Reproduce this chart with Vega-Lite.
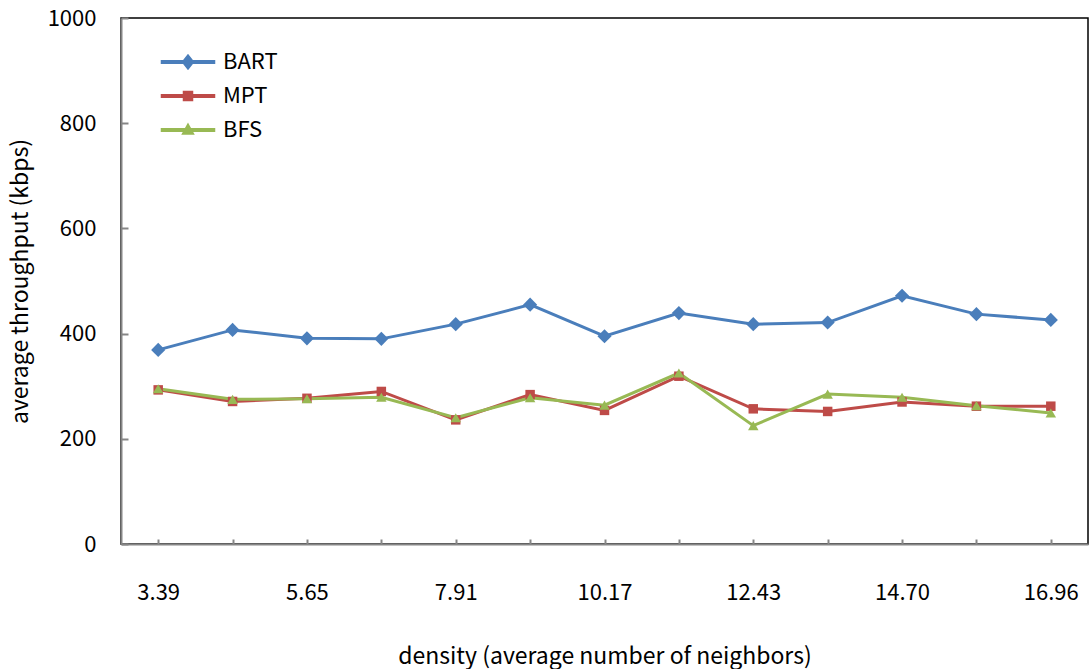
{
  "$schema": "https://vega.github.io/schema/vega-lite/v6.json",
  "autosize": {"type": "none"},
  "padding": {"left": 121, "top": 18, "right": 2, "bottom": 125},
  "width": 967,
  "height": 526,
  "background": "white",
  "config": {
    "font": "Noto Sans CJK KR",
    "view": {"stroke": "#000000", "strokeWidth": 1.5},
    "axis": {"grid": false, "domainColor": "#868686", "domainWidth": 2, "tickColor": "#868686", "tickWidth": 2, "labelColor": "#000000", "titleColor": "#000000", "labelFontSize": 22, "titleFontSize": 23, "titleFontWeight": "normal", "labelFont": "Noto Sans CJK KR", "titleFont": "Noto Sans CJK KR"}
  },
  "data": {
    "values": [
      {"density": "3.39", "series": "BART", "throughput": 369},
      {"density": "4.52", "series": "BART", "throughput": 407},
      {"density": "5.65", "series": "BART", "throughput": 391},
      {"density": "6.78", "series": "BART", "throughput": 390},
      {"density": "7.91", "series": "BART", "throughput": 418},
      {"density": "9.04", "series": "BART", "throughput": 455},
      {"density": "10.17", "series": "BART", "throughput": 395},
      {"density": "11.30", "series": "BART", "throughput": 439},
      {"density": "12.43", "series": "BART", "throughput": 418},
      {"density": "13.56", "series": "BART", "throughput": 421},
      {"density": "14.70", "series": "BART", "throughput": 472},
      {"density": "15.83", "series": "BART", "throughput": 437},
      {"density": "16.96", "series": "BART", "throughput": 426},
      {"density": "3.39", "series": "MPT", "throughput": 293},
      {"density": "4.52", "series": "MPT", "throughput": 271},
      {"density": "5.65", "series": "MPT", "throughput": 277},
      {"density": "6.78", "series": "MPT", "throughput": 290},
      {"density": "7.91", "series": "MPT", "throughput": 236},
      {"density": "9.04", "series": "MPT", "throughput": 284},
      {"density": "10.17", "series": "MPT", "throughput": 254},
      {"density": "11.30", "series": "MPT", "throughput": 319},
      {"density": "12.43", "series": "MPT", "throughput": 257},
      {"density": "13.56", "series": "MPT", "throughput": 252},
      {"density": "14.70", "series": "MPT", "throughput": 270},
      {"density": "15.83", "series": "MPT", "throughput": 262},
      {"density": "16.96", "series": "MPT", "throughput": 262},
      {"density": "3.39", "series": "BFS", "throughput": 295},
      {"density": "4.52", "series": "BFS", "throughput": 275},
      {"density": "5.65", "series": "BFS", "throughput": 276},
      {"density": "6.78", "series": "BFS", "throughput": 279},
      {"density": "7.91", "series": "BFS", "throughput": 240},
      {"density": "9.04", "series": "BFS", "throughput": 278},
      {"density": "10.17", "series": "BFS", "throughput": 264},
      {"density": "11.30", "series": "BFS", "throughput": 325},
      {"density": "12.43", "series": "BFS", "throughput": 225},
      {"density": "13.56", "series": "BFS", "throughput": 285},
      {"density": "14.70", "series": "BFS", "throughput": 279},
      {"density": "15.83", "series": "BFS", "throughput": 263},
      {"density": "16.96", "series": "BFS", "throughput": 249}
    ]
  },
  "encoding": {
    "x": {
      "field": "density", "type": "ordinal", "sort": null,
      "scale": {"type": "point", "padding": 0.5},
      "axis": {
        "title": "density (average number of neighbors)",
        "labelAngle": 0,
        "tickSize": -5,
        "labelPadding": 43,
        "titlePadding": 42,
        "labelExpr": "indexof(['3.39','5.65','7.91','10.17','12.43','14.70','16.96'], datum.value) >= 0 ? datum.label : ''"
      }
    },
    "y": {
      "field": "throughput", "type": "quantitative",
      "scale": {"domain": [0, 1000]},
      "axis": {"title": "average throughput (kbps)", "format": "d", "values": [0, 200, 400, 600, 800, 1000], "tickSize": -7, "labelPadding": 32, "titlePadding": 15}
    },
    "color": {
      "field": "series", "type": "nominal", "sort": ["BART", "MPT", "BFS"],
      "scale": {"domain": ["BART", "MPT", "BFS"], "range": ["#4A7EBB", "#BE4B48", "#98B954"]},
      "legend": {
        "title": null, "orient": "none", "legendX": 56, "legendY": 33,
        "symbolSize": 400, "labelOffset": 24, "labelFontSize": 22, "labelFont": "Noto Sans CJK KR", "labelColor": "#000000", "rowPadding": 12,
        "symbolOpacity": 1,
        "encode": {
          "symbols": {
            "update": {
              "shape": {"signal": "datum.value === 'BART' ? 'M-2.65,-0.12L2.65,-0.12L2.65,0.12L-2.65,0.12ZM0,-0.7L0.55,0L0,0.7L-0.55,0Z' : datum.value === 'MPT' ? 'M-2.65,-0.12L2.65,-0.12L2.65,0.12L-2.65,0.12ZM-0.45,-0.45L0.45,-0.45L0.45,0.45L-0.45,0.45Z' : 'M-2.65,-0.12L2.65,-0.12L2.65,0.12L-2.65,0.12ZM0,-0.6L0.55,0.4L-0.55,0.4Z'"},
              "fill": {"signal": "datum.value === 'BART' ? '#4A7EBB' : datum.value === 'MPT' ? '#BE4B48' : '#98B954'"},
              "stroke": {"value": "transparent"},
              "fillOpacity": {"value": 1},
              "opacity": {"value": 1}
            }
          }
        }
      }
    }
  },
  "layer": [
    {"mark": {"type": "line", "strokeWidth": 3}},
    {
      "transform": [{"filter": "datum.series === 'BART'"}],
      "mark": {"type": "point", "filled": true, "opacity": 1, "shape": "diamond", "size": 200}
    },
    {
      "transform": [{"filter": "datum.series === 'MPT'"}],
      "mark": {"type": "point", "filled": true, "opacity": 1, "shape": "square", "size": 90}
    },
    {
      "transform": [{"filter": "datum.series === 'BFS'"}],
      "mark": {"type": "point", "filled": true, "opacity": 1, "shape": "triangle-up", "size": 110}
    }
  ]
}
